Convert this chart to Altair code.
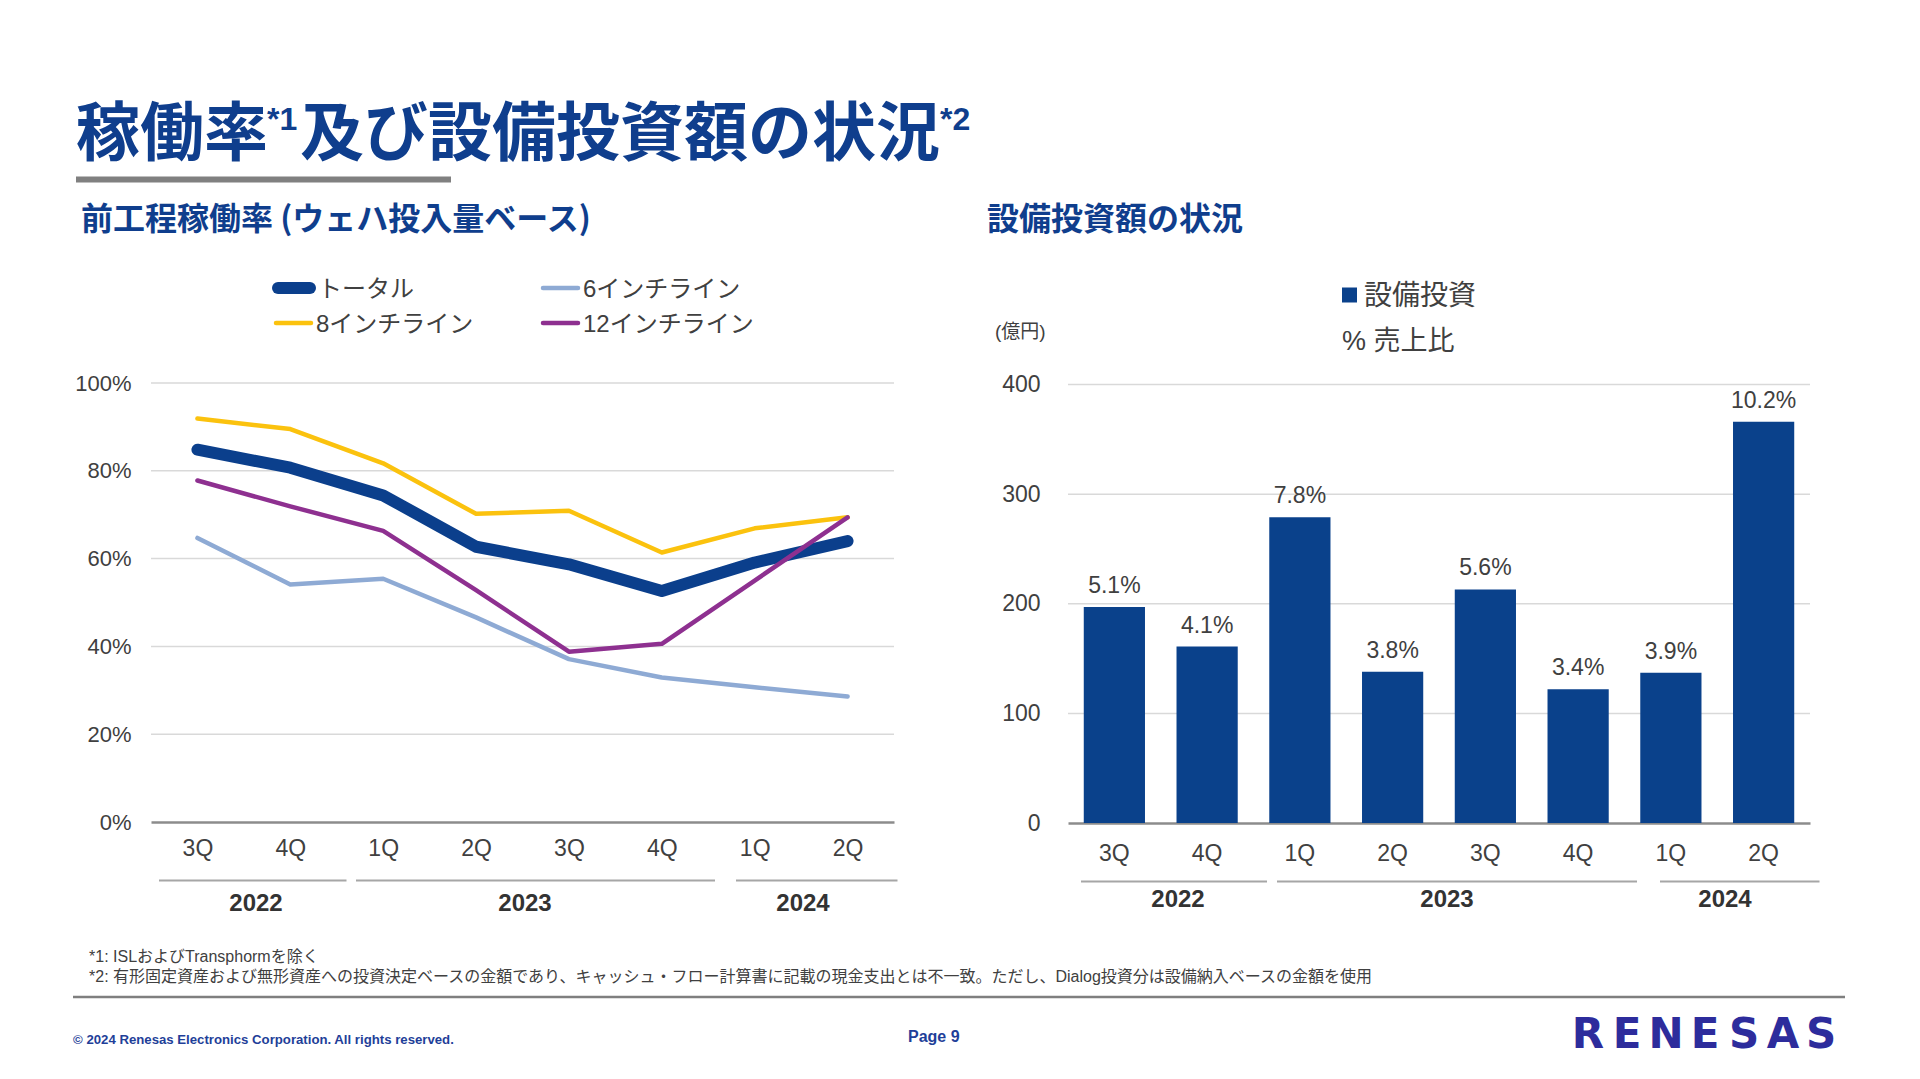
import altair as alt
import pandas as pd

# ---------------- data ----------------
periods = ["2022-3Q", "2022-4Q", "2023-1Q", "2023-2Q", "2023-3Q", "2023-4Q", "2024-1Q", "2024-2Q"]
series_names = ["トータル", "6インチライン", "8インチライン", "12インチライン"]
total = [84.8, 80.7, 74.4, 62.7, 58.7, 52.6, 59.1, 64.0]
line6 = [64.7, 54.1, 55.4, 46.6, 37.1, 32.9, 30.7, 28.6]
line8 = [91.9, 89.5, 81.7, 70.2, 70.9, 61.4, 66.9, 69.4]
line12 = [77.8, 71.9, 66.3, 52.8, 38.8, 40.6, 55.0, 69.4]
pct_ticks = [0, 20, 40, 60, 80, 100]

capex = [197, 161, 279, 138, 213, 122, 137, 366]
capex_ratio = ["5.1%", "4.1%", "7.8%", "3.8%", "5.6%", "3.4%", "3.9%", "10.2%"]
capex_ticks = [0, 100, 200, 300, 400]
years = ["2022", "2023", "2024"]

# ---------------- styles ----------------
JP = "'Noto Sans CJK JP', sans-serif"
MIX = "'Liberation Sans', 'Noto Sans CJK JP', sans-serif"
TITLE_BLUE = "#0f3e8d"
BAR_BLUE = "#0a418b"
TXT = "#404040"
series_colors = ["#0b3f8c", "#8eaad4", "#fbc20e", "#8e3090"]
series_widths = [12, 4.5, 4.5, 4.5]

W, H = 1904, 1063

series_vals = [total, line6, line8, line12]
line_df = pd.DataFrame([
    {"period": p, "series": s, "value": v}
    for s, vals in zip(series_names, series_vals)
    for p, v in zip(periods, vals)
])
bar_df = pd.DataFrame({"period": periods, "capex": capex, "ratio": capex_ratio})


def one():
    return alt.Data(values=[{}])


def txt(s, x, y, size, color=TXT, weight="normal", align="left", font=MIX, baseline="middle"):
    return alt.Chart(one()).mark_text(
        text=s, align=align, baseline=baseline, fontSize=size,
        fontWeight=weight, color=color, font=font
    ).encode(x=alt.value(x), y=alt.value(y))


def hrule(x1, x2, y, color, width, cap="butt"):
    return alt.Chart(one()).mark_rule(color=color, strokeWidth=width, strokeCap=cap).encode(
        x=alt.value(x1), x2=alt.value(x2), y=alt.value(y))


# ---------------- line chart ----------------
lx = alt.X("period:N", sort=periods,
           scale=alt.Scale(type="point", domain=periods, range=[143, 886], padding=0.5),
           axis=alt.Axis(orient="bottom", offset=814 - H, ticks=False, grid=False,
                         domain=True, domainColor="#8c8c8c", domainWidth=2.5,
                         labelPadding=26, labelBaseline="middle", labelAngle=0,
                         labelAlign="center",
                         labelExpr="split(datum.value, '-')[1]",
                         labelFont=MIX, labelFontSize=23, labelColor=TXT, title=None))
ly = alt.Y("value:Q",
           scale=alt.Scale(domain=[0, 100], range=[814, 375], nice=False, zero=False),
           axis=alt.Axis(orient="left", offset=-123, ticks=False, domain=False, grid=False,
                         labelPadding=0, values=pct_ticks, labelExpr="datum.value + '%'",
                         labelFont=MIX, labelFontSize=22, labelColor=TXT, title=None))

line_grid = alt.Chart(pd.DataFrame({"value": pct_ticks[1:]})).mark_rule(
    color="#d9d9d9", strokeWidth=1.5).encode(y=ly, x=alt.value(143), x2=alt.value(886))

line_layers = [line_grid]
for name, col, wdt in zip(series_names, series_colors, series_widths):
    line_layers.append(
        alt.Chart(line_df).transform_filter(alt.datum.series == name).mark_line(
            color=col, strokeWidth=wdt, strokeCap="round", strokeJoin="round"
        ).encode(x=lx, y=ly)
    )
line_chart = alt.layer(*line_layers)

# ---------------- bar chart ----------------
bx = alt.X("period:N", sort=periods,
           scale=alt.Scale(type="band", domain=periods, range=[1060, 1802],
                           paddingInner=0.34, paddingOuter=0.17),
           axis=alt.Axis(orient="bottom", offset=815 - H, ticks=False, grid=False,
                         domain=True, domainColor="#8c8c8c", domainWidth=2.5,
                         labelPadding=30, labelBaseline="middle", labelAngle=0,
                         labelAlign="center",
                         labelExpr="split(datum.value, '-')[1]",
                         labelFont=MIX, labelFontSize=23, labelColor=TXT, title=None))
by = alt.Y("capex:Q",
           scale=alt.Scale(domain=[0, 400], range=[815, 376.5], nice=False),
           axis=alt.Axis(orient="left", offset=-1032, ticks=False, domain=False, grid=False,
                         labelPadding=0, values=capex_ticks,
                         labelFont=MIX, labelFontSize=23, labelColor=TXT, title=None))

bar_grid = alt.Chart(pd.DataFrame({"capex": capex_ticks[1:]})).mark_rule(
    color="#d9d9d9", strokeWidth=1.5).encode(y=by, x=alt.value(1060), x2=alt.value(1802))
bar_base = alt.Chart(bar_df).encode(x=bx, y=by)
bars = bar_base.mark_bar(color=BAR_BLUE)
bar_labels = bar_base.mark_text(dy=-21, baseline="middle", fontSize=23, font=MIX,
                                color=TXT).encode(text="ratio:N")
bar_chart = alt.layer(bar_grid, bars, bar_labels)

# ---------------- decorations ----------------
deco = [
    # title
    txt("稼働率", 68, 128, 64, TITLE_BLUE, "bold", font=JP),
    txt("*1", 259, 112, 32, TITLE_BLUE, "bold", font=MIX),
    txt("及び設備投資額の状況", 292, 128, 64, TITLE_BLUE, "bold", font=JP),
    txt("*2", 932, 112, 32, TITLE_BLUE, "bold", font=MIX),
    hrule(68, 443, 171.5, "#808080", 6),
    # subtitles
    txt("前工程稼働率 (ウェハ投入量ベース)", 73, 212, 32, TITLE_BLUE, "bold", font=JP),
    txt("設備投資額の状況", 979, 212, 32, TITLE_BLUE, "bold", font=JP),
    # line legend
    hrule(270, 302, 280, series_colors[0], 12, "round"),
    txt(series_names[0], 310, 282, 24),
    hrule(535, 570, 280, series_colors[1], 4.5, "round"),
    txt(series_names[1], 575, 282, 24),
    hrule(268, 303, 315, series_colors[2], 4.5, "round"),
    txt(series_names[2], 308, 317, 24),
    hrule(535, 570, 315, series_colors[3], 4.5, "round"),
    txt(series_names[3], 575, 317, 24),
    # bar legend
    alt.Chart(one()).mark_square(size=225, color=BAR_BLUE, opacity=1).encode(
        x=alt.value(1341.5), y=alt.value(287)),
    txt("設備投資", 1356, 289, 28),
    txt("% 売上比", 1334, 334, 27),
    txt("(億円)", 987, 324, 19),
    # year groups: line chart
    hrule(151, 338.5, 872.4, "#a6a6a6", 2),
    hrule(348, 707, 872.4, "#a6a6a6", 2),
    hrule(728, 889.5, 872.4, "#a6a6a6", 2),
    txt(years[0], 248, 896, 24, "#333333", "bold", "center"),
    txt(years[1], 517, 896, 24, "#333333", "bold", "center"),
    txt(years[2], 795, 896, 24, "#333333", "bold", "center"),
    # year groups: bar chart
    hrule(1073, 1259, 873.6, "#a6a6a6", 2),
    hrule(1269, 1629, 873.6, "#a6a6a6", 2),
    hrule(1652, 1811.5, 873.6, "#a6a6a6", 2),
    txt(years[0], 1170, 892, 24, "#333333", "bold", "center"),
    txt(years[1], 1439, 892, 24, "#333333", "bold", "center"),
    txt(years[2], 1717, 892, 24, "#333333", "bold", "center"),
    # footnotes
    txt("*1: ISLおよびTransphormを除く", 81, 949, 16),
    txt("*2: 有形固定資産および無形資産への投資決定ベースの金額であり、キャッシュ・フロー計算書に記載の現金支出とは不一致。ただし、Dialog投資分は設備納入ベースの金額を使用",
        81, 969, 16),
    hrule(65, 1837, 989, "#7f7f7f", 2.5),
    txt("© 2024 Renesas Electronics Corporation. All rights reserved.", 65, 1032, 13.2,
        "#1f3f99", "bold"),
    txt("Page 9", 900, 1029, 16, "#1f3f99", "bold"),
]
logo_letters = list("RENESAS")
logo_x = [1580, 1619, 1658, 1697, 1736, 1775, 1813]
for ch, xx in zip(logo_letters, logo_x):
    deco.append(txt(ch, xx, 1027, 42, "#2d2c9c", "bold", "center", font="'DejaVu Sans', sans-serif"))

chart = alt.layer(line_chart, bar_chart, *deco).resolve_scale(
    x="independent", y="independent"
).properties(
    width=W, height=H, padding=0, background="white",
    autosize=alt.AutoSizeParams(type="none")
).configure_view(strokeWidth=0)

chart.save("out.html", embed_options={"renderer": "svg", "actions": False})
